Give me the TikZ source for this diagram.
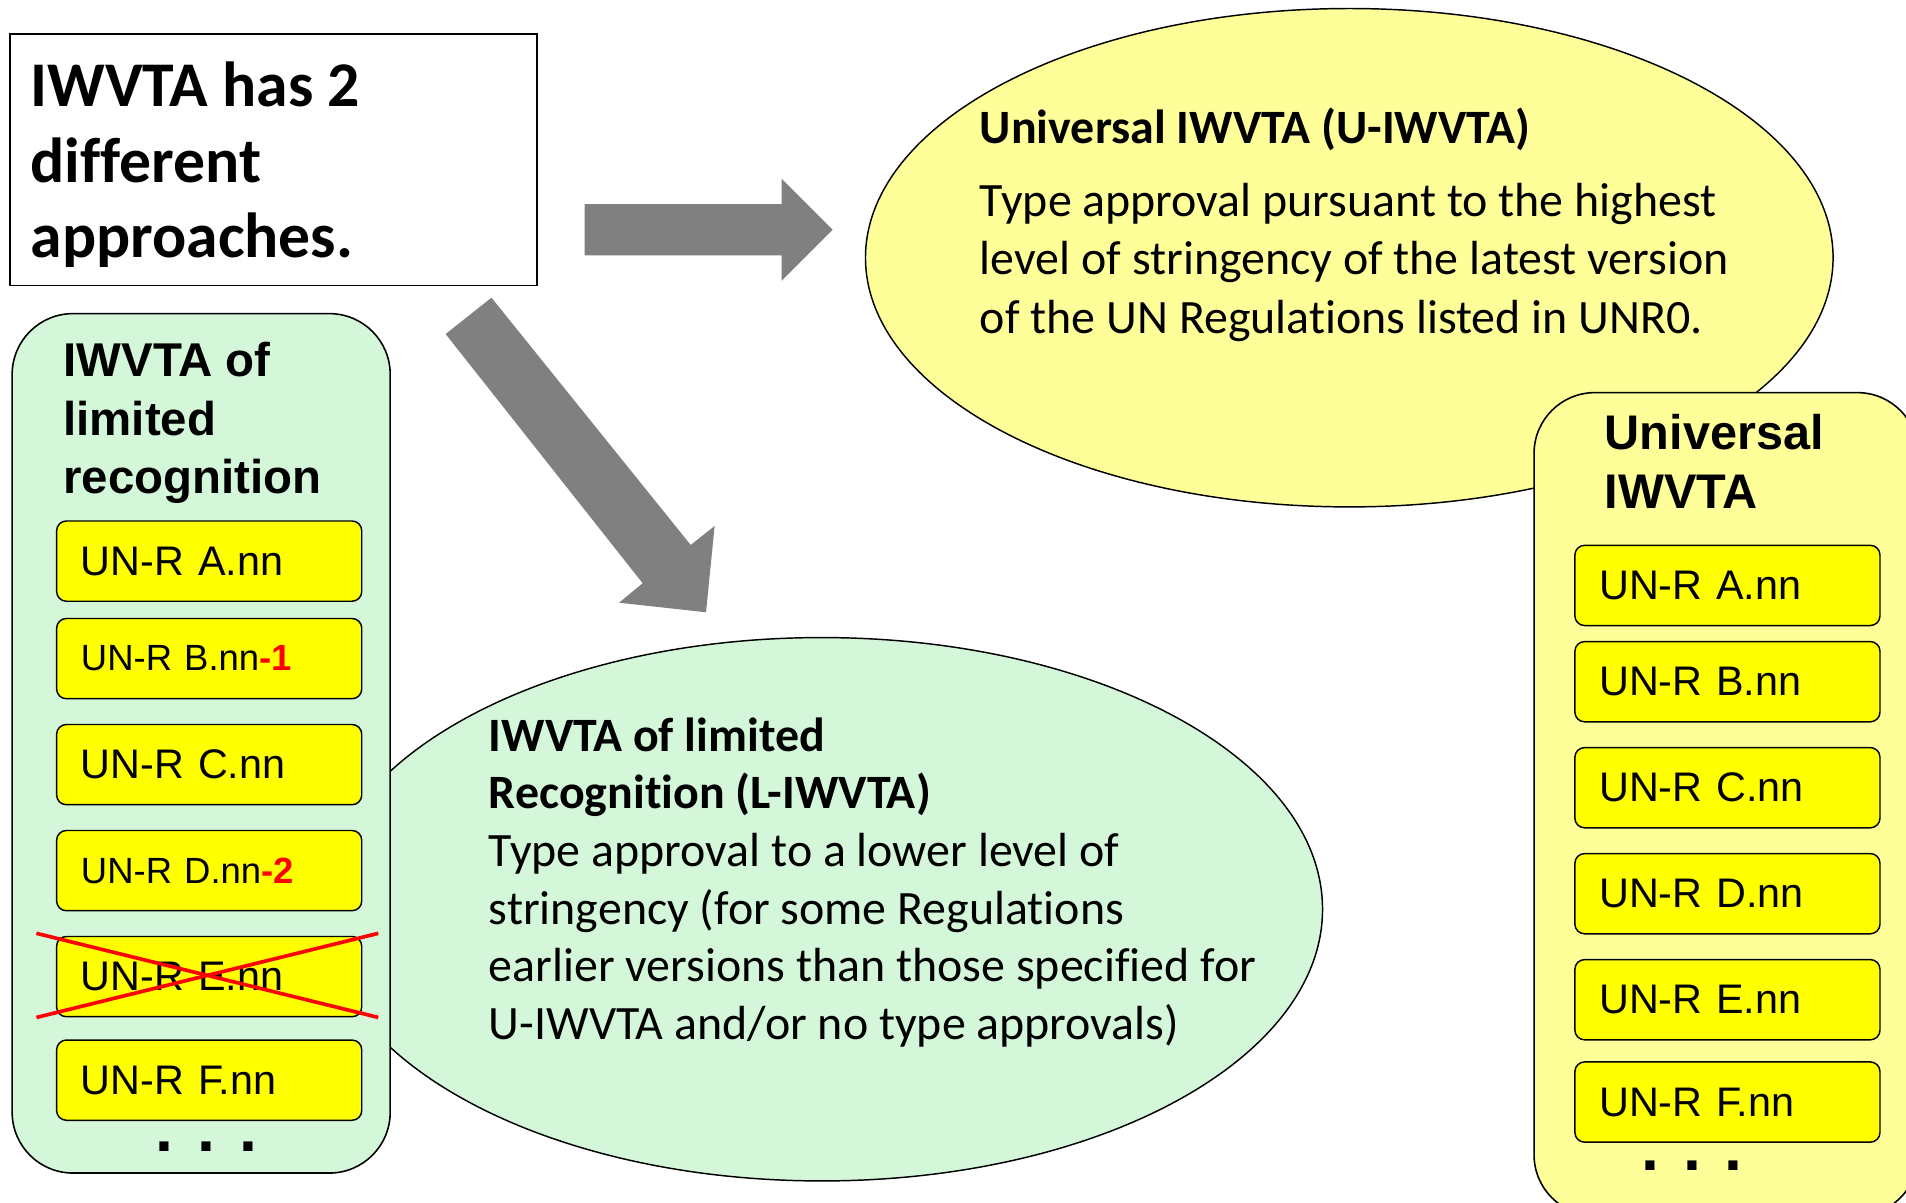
\documentclass[tikz,border=0pt]{standalone}
\usepackage{fontspec}
\setmainfont[Ligatures=NoCommon]{Carlito}
\newfontfamily\arialfont{Liberation Sans}
\usepackage{tikz}
\usetikzlibrary{positioning, shapes.geometric}
\definecolor{panelgreen}{RGB}{212,247,218}
\definecolor{paleyellow}{RGB}{255,255,153}
\definecolor{regyellow}{RGB}{255,255,0}
\definecolor{arrowgray}{RGB}{128,128,128}

\begin{document}
\begin{tikzpicture}[x=1pt, y=-1pt, node distance=20pt,
  panel/.style={draw, line width=1.3pt, rounded corners=50pt},
  oval/.style={draw, ellipse, line width=1.2pt, inner sep=0pt},
  reg/.style={draw, line width=1.2pt, rounded corners=8pt, fill=regyellow, text width=211pt, inner xsep=20pt, inner ysep=0pt, minimum height=66pt, font=\arialfont\fontsize{34}{40}\selectfont},
  regsmall/.style={reg, font=\arialfont\fontsize{30}{36}\selectfont},
  head/.style={inner sep=0pt, align=left, anchor=base west, font=\arialfont\bfseries\fontsize{39}{48}\selectfont},
  txt/.style={inner sep=0pt, align=left, anchor=base west, font=\fontsize{39.4}{48}\selectfont},
  dots/.style={inner sep=0pt, anchor=base, font=\arialfont\bfseries\fontsize{53}{53}\selectfont},
  blockarrow/.style={fill=arrowgray, draw=none}]
  \useasboundingbox (0,0) rectangle (1568,989);
  \clip (0,0) rectangle (1568,989);

  % approach for universal recognition (text nodes sit on their last baseline)
  \node[oval, fill=paleyellow, minimum width=796pt, minimum height=410pt] (uoval) at (1110,212) {};
  \node[txt, font=\bfseries\fontsize{39.4}{48}\selectfont] (utitle) at (806,118) {Universal IWVTA (U-IWVTA)};
  \node[txt] (ubody) at (806,274) {Type approval pursuant to the highest\\level of stringency of the latest version\\of the UN Regulations listed in UNR0.};

  % approach for limited recognition
  \node[oval, fill=panelgreen, minimum width=824pt, minimum height=447pt] (loval) at (676,748) {};
  \node[txt, font=\fontsize{39.4}{47.4}\selectfont] (lbody) at (402,855) {\textbf{IWVTA of limited}\\\textbf{Recognition (L-IWVTA)}\\Type approval to a lower level of\\stringency (for some Regulations\\earlier versions than those specified for\\U-IWVTA and/or no type approvals)};

  % title box
  \draw[line width=1.3pt, fill=white] (8,28) rectangle (442,235);
  \node[txt, font=\bfseries\fontsize{52.4}{62}\selectfont] (title) at (25,212) {IWVTA has 2\\different\\approaches.};

  % the two block arrows
  \fill[blockarrow] (481,168) -- (643,168) -- (643,147) -- (685,189) -- (643,231) -- (643,210) -- (481,210) -- cycle;
  \fill[blockarrow] (366.6,274.8) -- (404.3,244.9) -- (568.2,448.3) -- (587.9,432.7) -- (580.8,503.7) -- (509.3,495.8) -- (528.7,479.8) -- cycle;

  % left panel: limited recognition
  \draw[panel, fill=panelgreen] (10,258) rectangle (321,965);
  \node[head] (lhead) at (52,406) {IWVTA of\\limited\\recognition};
  \node[reg, anchor=north west] (regLA) at (46,428) {UN-R A.nn};
  \node[regsmall, below=13pt of regLA] (regLB) {UN-R B.nn\textcolor{red}{\bfseries -1}};
  \node[reg, below=of regLB] (regLC) {UN-R C.nn};
  \node[regsmall, below=of regLC] (regLD) {UN-R D.nn\textcolor{red}{\bfseries -2}};
  \node[reg, below=of regLD] (regLE) {UN-R E.nn};
  \node[reg, below=18pt of regLE] (regLF) {UN-R F.nn};
  \node[dots] (ldots) at (170,947) {. . .};
  % struck out regulation
  \draw[red, line width=3pt] ([shift={(-16pt,2pt)}]regLE.north west) -- ([shift={(13pt,0pt)}]regLE.south east);
  \draw[red, line width=3pt] ([shift={(-16pt,0pt)}]regLE.south west) -- ([shift={(13pt,2pt)}]regLE.north east);

  % right panel: universal
  \draw[panel, fill=paleyellow] (1262,323) rectangle (1578,1000);
  \node[head, font=\arialfont\bfseries\fontsize{40}{48}\selectfont] (uhead) at (1320,418) {Universal\\IWVTA};
  \node[reg, anchor=north west] (regUA) at (1295,448) {UN-R A.nn};
  \node[reg, below=12pt of regUA] (regUB) {UN-R B.nn};
  \node[reg, below=of regUB] (regUC) {UN-R C.nn};
  \node[reg, below=of regUC] (regUD) {UN-R D.nn};
  \node[reg, below=of regUD] (regUE) {UN-R E.nn};
  \node[reg, below=17pt of regUE] (regUF) {UN-R F.nn};
  \node[dots] (udots) at (1392,963) {. . .};
\end{tikzpicture}
\end{document}
